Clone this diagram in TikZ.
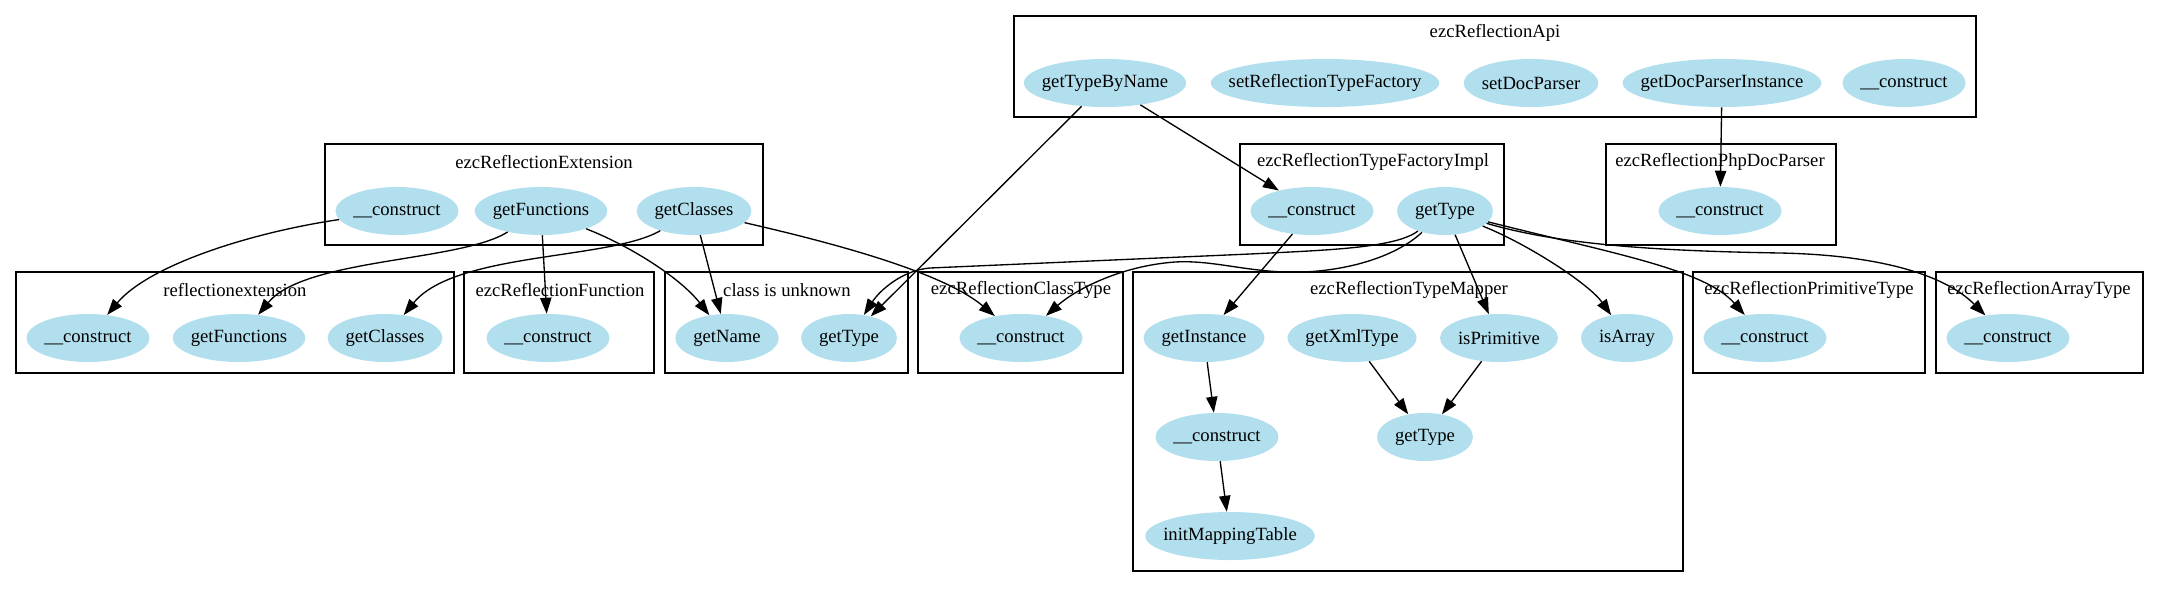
\documentclass[tikz,border=0pt]{standalone}
\usepackage{fontspec}
\setmainfont{Liberation Serif}
\definecolor{methblue}{HTML}{B2DFEE}
\usetikzlibrary{arrows.meta, shapes.geometric}
\newcommand{\cfont}{\fontsize{14}{16}\selectfont}

\begin{document}
\begin{tikzpicture}[x=0.75pt, y=-0.75pt,
  meth/.style={ellipse, fill=methblue, minimum height=36pt, inner ysep=0pt,
               inner xsep={9.546pt-0.14645*\wd\pgfnodeparttextbox}, font=\cfont},
  clusterbox/.style={draw=black, line width=1pt},
  ctitle/.style={font=\cfont, inner sep=0pt},
  call/.style={-{Triangle[length=12pt, width=8.5pt]}, line width=1pt},
]
\useasboundingbox (0,0) rectangle (2159,597);

% Clusters
\draw[clusterbox] (1014,16) rectangle (1976,117);
\node[ctitle] (t-api) at (1495,33) {ezcReflectionApi};
\draw[clusterbox] (325,144) rectangle (763,245);
\node[ctitle] (t-ext) at (544,162) {ezcReflectionExtension};
\draw[clusterbox] (1240,144) rectangle (1504,245);
\node[ctitle] (t-fac) at (1373,162) {ezcReflectionTypeFactoryImpl};
\draw[clusterbox] (1606,144) rectangle (1836,245);
\node[ctitle] (t-par) at (1720,162) {ezcReflectionPhpDocParser};
\draw[clusterbox] (16,272) rectangle (454,373);
\node[ctitle] (t-rex) at (235,290) {reflectionextension};
\draw[clusterbox] (464,272) rectangle (654,373);
\node[ctitle] (t-fun) at (560,290) {ezcReflectionFunction};
\draw[clusterbox] (665,272) rectangle (908,373);
\node[ctitle] (t-unk) at (787,290) {class is unknown};
\draw[clusterbox] (918,272) rectangle (1123,373);
\node[ctitle] (t-cls) at (1021,290) {ezcReflectionClassType};
\draw[clusterbox] (1133,272) rectangle (1683,571);
\node[ctitle] (t-map) at (1409,290) {ezcReflectionTypeMapper};
\draw[clusterbox] (1693,272) rectangle (1925,373);
\node[ctitle] (t-pri) at (1809,290) {ezcReflectionPrimitiveType};
\draw[clusterbox] (1936,272) rectangle (2143,373);
\node[ctitle] (t-arr) at (2039,290) {ezcReflectionArrayType};

% Row 1: ezcReflectionApi
\node[meth] (a1) at (1105,83) {getTypeByName};
\node[meth] (a2) at (1325,83) {setReflectionTypeFactory};
\node[meth] (a3) at (1531,83) {setDocParser};
\node[meth] (a4) at (1722,83) {getDocParserInstance};
\node[meth] (a5) at (1904,83) {\_\_construct};

% Row 2: extension, factory, parser
\node[meth] (e1) at (397,211) {\_\_construct};
\node[meth] (e2) at (541,211) {getFunctions};
\node[meth] (e3) at (694,211) {getClasses};
\node[meth] (f1) at (1312,211) {\_\_construct};
\node[meth] (f2) at (1445,211) {getType};
\node[meth] (p1) at (1720,211) {\_\_construct};

% Row 3
\node[meth] (r1) at (88,338) {\_\_construct};
\node[meth] (r2) at (239,338) {getFunctions};
\node[meth] (r3) at (385,338) {getClasses};
\node[meth] (fn1) at (548,338) {\_\_construct};
\node[meth] (u1) at (727,338) {getName};
\node[meth] (u2) at (849,338) {getType};
\node[meth] (c1) at (1021,338) {\_\_construct};
\node[meth] (m1) at (1204,338) {getInstance};
\node[meth] (m2) at (1352,338) {getXmlType};
\node[meth] (m3) at (1499,338) {isPrimitive};
\node[meth] (m4) at (1627,338) {isArray};
\node[meth] (pr1) at (1765,338) {\_\_construct};
\node[meth] (ar1) at (2008,338) {\_\_construct};

% Mapper, lower rows
\node[meth] (m5) at (1217,437) {\_\_construct};
\node[meth] (m6) at (1425,437) {getType};
\node[meth] (m7) at (1230,536) {initMappingTable};

% Calls
\draw[call] (e1) .. controls (248,233) and (148,266) .. (r1);
\draw[call] (e2) .. controls (460,262) and (305,258) .. (r2);
\draw[call] (e2) -- (fn1);
\draw[call] (e2) .. controls (635,248) and (682,280) .. (u1);
\draw[call] (e3) .. controls (610,260) and (455,252) .. (r3);
\draw[call] (e3) -- (u1);
\draw[call] (e3) .. controls (820,240) and (940,270) .. (c1);
\draw[call] (a1) -- (u2);
\draw[call] (a1) -- (f1);
\draw[call] (a4) -- (p1);
\draw[call] (f2) .. controls (1395,248) and (1330,250) .. (1250,254) -- (930,268)
  .. controls (903,270) and (880,290) .. (u2);
\draw[call] (f2) .. controls (1390,262) and (1330,274) .. (1283,272)
  .. controls (1240,270) and (1210,260) .. (1175,262)
  .. controls (1120,266) and (1075,290) .. (c1);
\draw[call] (f1) -- (m1);
\draw[call] (f2) -- (m3);
\draw[call] (f2) .. controls (1530,245) and (1590,285) .. (m4);
\draw[call] (f2) .. controls (1620,255) and (1705,270) .. (pr1);
\draw[call] (f2) .. controls (1560,245) and (1660,251) .. (1780,253)
  .. controls (1880,255) and (1945,275) .. (ar1);
\draw[call] (m1) -- (m5);
\draw[call] (m5) -- (m7);
\draw[call] (m2) -- (m6);
\draw[call] (m3) -- (m6);

\end{tikzpicture}
\end{document}
